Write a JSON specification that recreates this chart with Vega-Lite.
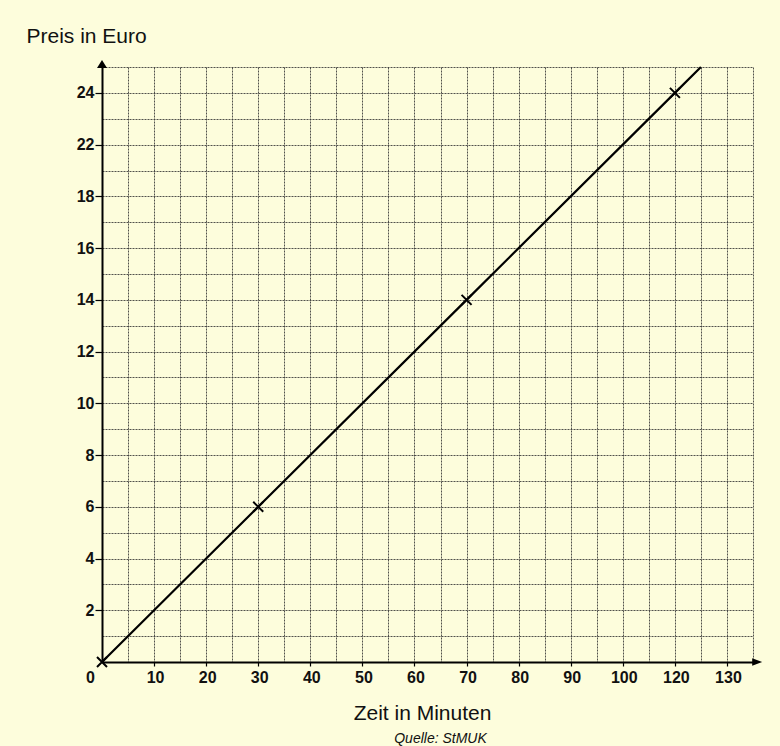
{
  "$schema": "https://vega.github.io/schema/vega-lite/v6.json",
  "autosize": {"type": "none"},
  "width": 651,
  "height": 595,
  "padding": {"left": 102, "top": 67, "right": 27, "bottom": 84},
  "background": "#fdfddc",
  "config": {
    "view": {"stroke": null},
    "font": "Liberation Sans",
    "axis": {
      "domainColor": "#000000",
      "domainWidth": 2,
      "gridColor": "#333333",
      "gridWidth": 1,
      "gridDash": [2, 1],
      "gridOpacity": 0.85,
      "tickWidth": 1.2,
      "labelFont": "Liberation Sans",
      "labelFontWeight": "bold",
      "labelFontSize": 16,
      "labelColor": "#111111",
      "titleFont": "Liberation Sans",
      "titleFontWeight": "normal",
      "titleFontSize": 21,
      "titleColor": "#111111"
    }
  },
  "title": {
    "text": "Quelle: StMUK",
    "orient": "bottom",
    "anchor": "middle",
    "frame": "group",
    "dx": 13,
    "offset": 9,
    "font": "Liberation Sans",
    "fontSize": 14,
    "fontStyle": "italic",
    "fontWeight": "normal",
    "color": "#111111"
  },
  "layer": [
    {
      "data": {"values": [
        {"Zeit": 0, "Preis": 0},
        {"Zeit": 30, "Preis": 6},
        {"Zeit": 70, "Preis": 14},
        {"Zeit": 120, "Preis": 24},
        {"Zeit": 125, "Preis": 25}
      ]},
      "mark": {"type": "line", "color": "#000000", "strokeWidth": 2.2, "clip": false},
      "encoding": {
        "x": {
          "field": "Zeit", "type": "quantitative", "title": "Zeit in Minuten",
          "scale": {"domain": [0, 100, 120, 135], "range": [0, 520.8, 572.9, 651], "nice": false, "zero": false},
          "axis": {
            "values": [0, 5, 10, 15, 20, 25, 30, 35, 40, 45, 50, 55, 60, 65, 70, 75, 80, 85, 90, 95, 100, 110, 120, 125, 130, 135],
            "tickCount": 500,
            "format": "d",
            "labelExpr": "(datum.value == 0 || (datum.value % 10 == 0 && datum.value != 110 && datum.value <= 130)) ? datum.label : ''",
            "labelOffset": {"condition": {"test": "datum.value == 0", "value": -12}, "value": 1},
            "labelPadding": 3,
            "labelBaseline": "top",
            "tickSize": 4,
            "tickColor": {"condition": {"test": "datum.value % 10 == 0 && datum.value != 110 && datum.value > 0 && datum.value <= 130", "value": "#000000"}, "value": "transparent"},
            "grid": true,
            "labelFlush": false,
            "labelOverlap": false,
            "titleAnchor": "start",
            "titleAlign": "center",
            "titleBaseline": "alphabetic",
            "titleX": 320,
            "titleY": 57
          }
        },
        "y": {
          "field": "Preis", "type": "quantitative", "title": "Preis in Euro",
          "scale": {"domain": [0, 18, 22, 25], "range": [595, 129.4, 77.6, 0], "nice": false, "zero": false},
          "axis": {
            "values": [0, 1, 2, 3, 4, 5, 6, 7, 8, 9, 10, 11, 12, 13, 14, 15, 16, 17, 18, 20, 22, 23, 24, 25],
            "tickCount": 500,
            "format": "d",
            "labelExpr": "(datum.value % 2 == 0 && datum.value > 0 && datum.value != 20) ? datum.label : ''",
            "labelPadding": 1,
            "tickSize": 7,
            "tickColor": {"condition": {"test": "datum.value % 2 == 0 && datum.value > 0 && datum.value != 20", "value": "#000000"}, "value": "transparent"},
            "grid": true,
            "labelFlush": false,
            "labelOverlap": false,
            "titleAngle": 0,
            "titleAlign": "left",
            "titleBaseline": "alphabetic",
            "titleAnchor": "start",
            "titleX": -76,
            "titleY": -25
          }
        }
      }
    },
    {
      "data": {"values": [
        {"Zeit": 0, "Preis": 0},
        {"Zeit": 30, "Preis": 6},
        {"Zeit": 70, "Preis": 14},
        {"Zeit": 120, "Preis": 24}
      ]},
      "mark": {"type": "point", "shape": "M-1,-1L1,1M-1,1L1,-1", "filled": false, "stroke": "#000000", "strokeWidth": 2, "size": 100, "opacity": 1, "clip": false},
      "encoding": {
        "x": {"field": "Zeit", "type": "quantitative", "title": "Zeit in Minuten"},
        "y": {"field": "Preis", "type": "quantitative", "title": "Preis in Euro"}
      }
    },
    {
      "data": {"values": [{}]},
      "mark": {"type": "point", "shape": "M-1,-0.75L1,0L-1,0.75Z", "filled": true, "color": "#000000", "size": 100, "opacity": 1, "clip": false},
      "encoding": {
        "x": {"datum": 135.8, "type": "quantitative", "title": "Zeit in Minuten"},
        "y": {"datum": 0, "type": "quantitative", "title": "Preis in Euro"}
      }
    },
    {
      "data": {"values": [{}]},
      "mark": {"type": "point", "shape": "M-1,0.8L0,-0.8L1,0.8Z", "filled": true, "color": "#000000", "size": 100, "opacity": 1, "clip": false},
      "encoding": {
        "x": {"datum": 0, "type": "quantitative", "title": "Zeit in Minuten"},
        "y": {"datum": 25.12, "type": "quantitative", "title": "Preis in Euro"}
      }
    }
  ]
}
